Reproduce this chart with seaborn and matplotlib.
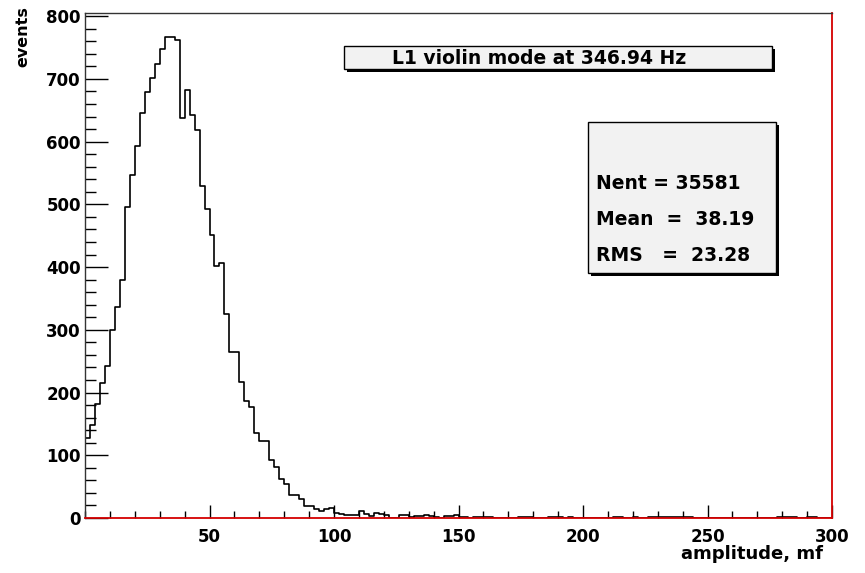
import numpy as np
import pandas as pd
import matplotlib
matplotlib.use('Agg')
import matplotlib.pyplot as plt
from matplotlib.ticker import MultipleLocator
from matplotlib.patches import Rectangle
import seaborn as sns

# bin contents, bins are 2 mf wide starting at 0
counts_rise = [127, 148, 182, 215, 242, 300, 337, 380, 496]
counts_peak = [547, 593, 646, 679, 701, 723, 748, 767, 767, 762]
counts_fall = [638, 682, 643, 619, 529, 493, 451, 401, 407, 325]
counts_shoulder = [265, 265, 217, 187, 177, 136, 123, 123, 92, 81, 62, 54]
counts_drop = [37, 37, 31, 19, 19, 14, 11, 14, 16, 8, 6, 5, 5, 5, 11, 6, 3, 8]
counts_tail = [6, 4, 0, 0, 4, 4, 2, 3, 3, 4, 3, 2, 0, 3, 3, 4, 2, 2, 0, 1,
               2, 1, 2, 0, 0, 0, 0, 0, 1, 1, 1, 0, 0, 0, 1, 1, 1, 0, 1, 0,
               0, 0, 0, 0, 0, 0, 0, 1, 1, 0, 0, 1, 0, 0, 1, 1, 1, 1, 1, 1,
               1, 1, 1, 0, 0, 0, 0, 0, 0, 0, 0, 0, 0, 0, 0, 0, 0, 0, 0, 0,
               1, 1, 1, 1, 0, 0, 1, 1, 0, 0, 0]
bin_width = 2

x_ticks = [50, 100, 150, 200, 250, 300]
y_ticks = [0, 100, 200, 300, 400, 500, 600, 700, 800]
title = 'L1 violin mode at 346.94 Hz'
stats = ['Nent = 35581', 'Mean  =  38.19', 'RMS   =  23.28']

counts = np.array(counts_rise + counts_peak + counts_fall + counts_shoulder
                  + counts_drop + counts_tail)
centers = np.arange(len(counts)) * bin_width + bin_width / 2
frame = pd.DataFrame({'amplitude': centers, 'events': counts})

sns.set_style('ticks')
plt.rcParams['font.family'] = ['DejaVu Sans']
plt.rcParams['font.weight'] = 'bold'
plt.rcParams['text.color'] = 'black'
plt.rcParams['xtick.color'] = 'black'
plt.rcParams['ytick.color'] = 'black'
plt.rcParams['xtick.labelcolor'] = 'black'
plt.rcParams['ytick.labelcolor'] = 'black'

W, H = 865, 573
fig = plt.figure(figsize=(W / 100, H / 100), dpi=100)
ax = fig.add_axes([85 / W, 55 / H, 747 / W, 505 / H])

sns.histplot(data=frame, x='amplitude', weights='events', binwidth=bin_width,
             binrange=(0, len(counts) * bin_width), element='step', fill=False,
             color='black', linewidth=1.2, ax=ax)

ax.set_xlim(0, 300)
ax.set_ylim(0, 805)
ax.set_xlabel('')
ax.set_ylabel('')
ax.set_xticks(x_ticks)
ax.set_yticks(y_ticks)
ax.xaxis.set_minor_locator(MultipleLocator(10))
ax.yaxis.set_minor_locator(MultipleLocator(20))
ax.tick_params(axis='x', which='major', direction='in', length=9.5, width=1, pad=7, labelsize=12)
ax.tick_params(axis='x', which='minor', direction='in', length=4.7, width=1)
ax.tick_params(axis='y', which='major', direction='in', length=16.5, width=1, pad=3, labelsize=12)
ax.tick_params(axis='y', which='minor', direction='in', length=8, width=1)

for s in ['bottom', 'right']:
    ax.spines[s].set_color('#d40000')
    ax.spines[s].set_linewidth(1.3)
for s in ['left', 'top']:
    ax.spines[s].set_color('#333333')
    ax.spines[s].set_linewidth(1)
for s in ax.spines:
    ax.spines[s].set_visible(True)


def px(x, y):
    return x / W, 1 - y / H


def shadow_box(x0, y0, x1, y1):
    # ROOT style pave: black drop shadow then light grey box
    w, h = (x1 - x0) / W, (y1 - y0) / H
    fig.patches.append(Rectangle(px(x0 + 3, y1 + 3), w, h, transform=fig.transFigure,
                                 facecolor='black', edgecolor='none'))
    fig.patches.append(Rectangle(px(x0, y1), w, h, transform=fig.transFigure,
                                 facecolor='#f2f2f2', edgecolor='black', linewidth=1))


shadow_box(344, 46, 772, 69)
fig.text(*px(392, 64), title, fontsize=13.5, fontweight='bold', va='baseline', ha='left')

shadow_box(588, 122, 776, 273)
for i, line in enumerate(stats):
    fig.text(*px(596, 189 + 36 * i), line, fontsize=13.5, fontweight='bold',
             va='baseline', ha='left')

fig.text(*px(23, 6), 'events', rotation=90, fontsize=11.5, fontweight='bold', va='top', ha='center')
fig.text(*px(823, 559), 'amplitude, mf', fontsize=13, fontweight='bold', va='baseline', ha='right')

fig.savefig('out.png', dpi=100)
